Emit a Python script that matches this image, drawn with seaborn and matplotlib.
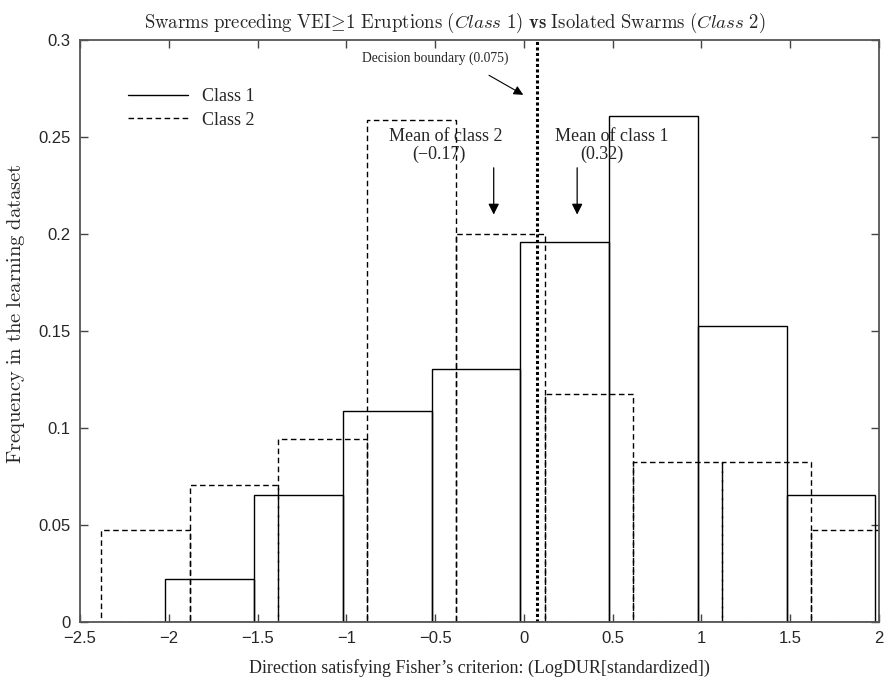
import numpy as np
import pandas as pd
import matplotlib
matplotlib.use("Agg")
import matplotlib.pyplot as plt
import seaborn as sns

# ---- data ----
class1_edges = [-2.02, -1.52, -1.02, -0.52, -0.02, 0.48, 0.98, 1.48, 1.98]
class1_freq = [0.0217, 0.0652, 0.1087, 0.1304, 0.1957, 0.2609, 0.1522, 0.0652]
class2_edges = [-2.383, -1.883, -1.383, -0.883, -0.383, 0.117, 0.617, 1.117, 1.617, 2.117]
class2_freq = [0.0471, 0.0706, 0.0941, 0.2588, 0.2000, 0.1176, 0.0824, 0.0824, 0.0471]
decision_boundary = 0.075
mean_class1 = 0.32
mean_class2 = -0.17
xticks = [-2.5, -2, -1.5, -1, -0.5, 0, 0.5, 1, 1.5, 2]
xtick_labels = ["\u22122.5", "\u22122", "\u22121.5", "\u22121", "\u22120.5", "0", "0.5", "1", "1.5", "2"]
yticks = [0, 0.05, 0.1, 0.15, 0.2, 0.25, 0.3]
ytick_labels = ["0", "0.05", "0.1", "0.15", "0.2", "0.25", "0.3"]

sns.set_style("ticks")
plt.rcParams["mathtext.fontset"] = "cm"

fig = plt.figure(figsize=(8.89, 6.83), dpi=100)
ax = fig.add_axes([80 / 889, 1 - 621.5 / 683, (879 - 80) / 889, (621.5 - 40) / 683])

c1 = [(a + b) / 2 for a, b in zip(class1_edges[:-1], class1_edges[1:])]
c2 = [(a + b) / 2 for a, b in zip(class2_edges[:-1], class2_edges[1:])]
df1 = pd.DataFrame({"x": c1, "w": class1_freq})
df2 = pd.DataFrame({"x": c2, "w": class2_freq})

sns.histplot(data=df2, x="x", weights="w", bins=class2_edges, stat="count",
             element="bars", fill=False, color="black", linewidth=1.0,
             linestyle=(0, (4, 2.5)), ax=ax)
sns.histplot(data=df1, x="x", weights="w", bins=class1_edges, stat="count",
             element="bars", fill=False, color="black", linewidth=1.0,
             linestyle="-", ax=ax)

ax.axvline(decision_boundary, color="black", linestyle=(0, (1, 0.8)), linewidth=2.2)

ax.set_xlim(-2.5, 2)
ax.set_ylim(0, 0.3)
ax.set_xticks(xticks)
ax.set_xticklabels(xtick_labels, family="Liberation Sans", fontsize=12)
ax.set_yticks(yticks)
ax.set_yticklabels(ytick_labels, family="Liberation Sans", fontsize=12)
ax.tick_params(direction="in", length=6, width=1, top=True, right=True, color="#444444", pad=7)
for s in ax.spines.values():
    s.set_color("#555555")
    s.set_linewidth(1.3)
    s.set_visible(True)

ax.set_xlabel("Direction satisfying Fisher\u2019s criterion: (LogDUR[standardized])",
              family="Liberation Serif", fontsize=13, labelpad=9)
ax.set_ylabel(r"$\mathrm{Frequency\ in\ the\ learning\ dataset}$", fontsize=14.8)
ax.yaxis.set_label_coords(-0.066, 0.529)
ax.set_title(r"$\mathrm{Swarms\ preceding\ VEI}\!\geq\!\mathrm{1\ Eruptions}\ \mathit{(Class\ 1)}\ \mathbf{vs}\ \mathrm{Isolated\ Swarms}\ \mathit{(Class\ 2)}$",
             fontsize=13.5, pad=9, x=0.469)

# legend
from matplotlib.lines import Line2D
handles = [Line2D([], [], color="black", lw=1.0, ls="-"),
           Line2D([], [], color="black", lw=1.0, ls=(0, (4, 2.5)))]
ax.legend(handles, ["Class 1", "Class 2"], loc="upper left", bbox_to_anchor=(0.04, 0.945),
          frameon=False, handlelength=3.3, handletextpad=0.8,
          prop={"family": "Liberation Serif", "size": 13}, labelspacing=0.35)

# annotations
ax.text(-0.497, 0.2905, "Decision boundary (0.075)", ha="center", va="center",
        family="Liberation Serif", fontsize=9.8)
ax.annotate("", xy=(0.01, 0.271), xytext=(-0.21, 0.2825),
            arrowprops=dict(arrowstyle="-|>", color="black", lw=0.8, mutation_scale=14))
ax.text(-0.44, 0.2500, "Mean of class 2", ha="center", va="center",
        family="Liberation Serif", fontsize=13)
ax.text(-0.48, 0.2410, "(\u22120.17)", ha="center", va="center",
        family="Liberation Serif", fontsize=13)
ax.text(0.494, 0.2500, "Mean of class 1", ha="center", va="center",
        family="Liberation Serif", fontsize=13)
ax.text(0.44, 0.2410, "(0.32)", ha="center", va="center",
        family="Liberation Serif", fontsize=13)
ax.annotate("", xy=(mean_class2, 0.2085), xytext=(mean_class2, 0.2355),
            arrowprops=dict(arrowstyle="-|>", color="black", lw=0.9, mutation_scale=16))
ax.annotate("", xy=(mean_class1 - 0.02, 0.2085), xytext=(mean_class1 - 0.02, 0.2355),
            arrowprops=dict(arrowstyle="-|>", color="black", lw=0.9, mutation_scale=16))

fig.savefig("out.png", dpi=100)
